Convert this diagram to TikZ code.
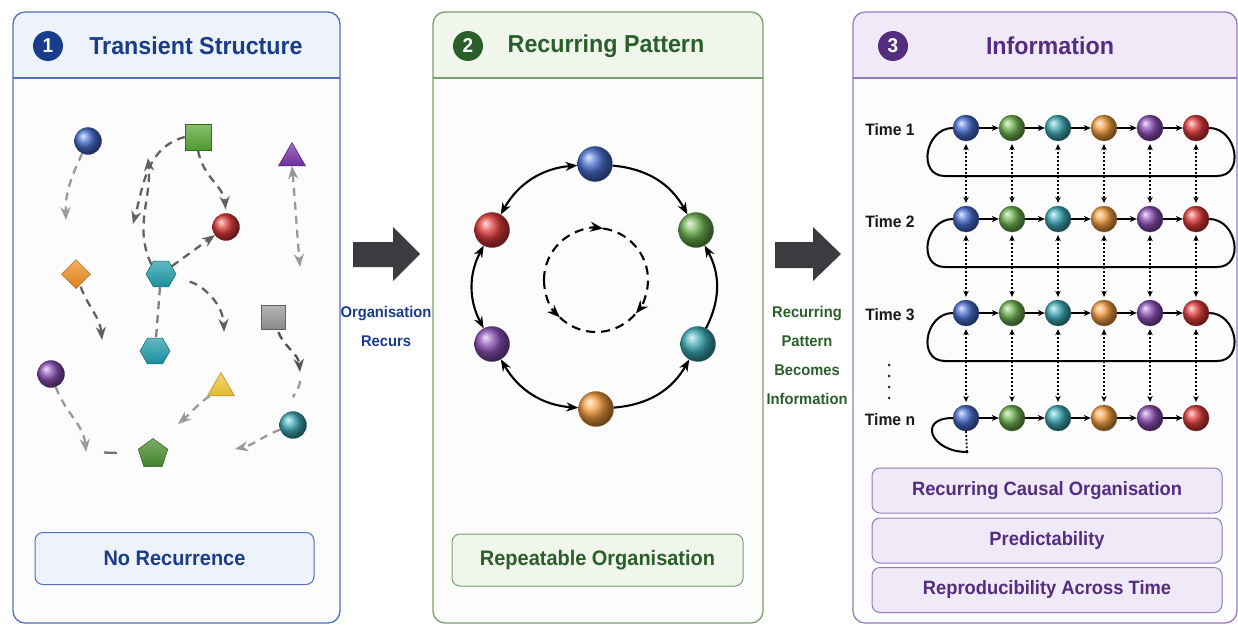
\documentclass[tikz,border=0pt]{standalone}
\usepackage{fontspec}
\setmainfont{Liberation Sans}[FakeStretch=0.95]
\usetikzlibrary{arrows.meta,shapes.geometric,calc}
\definecolor{cone}{RGB}{25,60,140}
\definecolor{conel}{RGB}{78,112,190}
\definecolor{conef}{RGB}{238,243,251}
\definecolor{ctwo}{RGB}{42,95,42}
\definecolor{ctwol}{RGB}{120,160,110}
\definecolor{ctwof}{RGB}{240,246,236}
\definecolor{cthree}{RGB}{84,44,128}
\definecolor{cthreel}{RGB}{150,122,192}
\definecolor{cthreef}{RGB}{240,234,248}
\definecolor{sblue}{RGB}{40,85,200}
\definecolor{sgreen}{RGB}{85,165,50}
\definecolor{steal}{RGB}{30,155,170}
\definecolor{sorange}{RGB}{240,140,30}
\definecolor{spurple}{RGB}{120,50,170}
\definecolor{sred}{RGB}{220,25,25}
\definecolor{sgray}{RGB}{150,150,150}
\definecolor{syellow}{RGB}{245,200,50}
\definecolor{bigarrow}{RGB}{58,60,63}
\begin{document}
\begin{tikzpicture}[x=1pt,y=1pt,
  ttl/.style={font=\fontsize{24.5}{28}\selectfont\bfseries, inner sep=0pt},
  num/.style={circle, inner sep=0pt, minimum size=30pt, fill=#1, text=white, font=\fontsize{20}{22}\selectfont\bfseries},
  ball/.style={circle, inner sep=0pt, ball color=#1!85!white, draw=#1!60!black, line width=0.3pt},
  flat/.style={inner sep=0pt, draw=#1!65!black, line width=0.5pt, top color=#1!70!white, bottom color=#1!92!black},
  lbox/.style={rounded corners=8pt, line width=1pt, minimum height=#1, inner sep=0pt},
  darr/.style={dashed, dash pattern=on 8pt off 6pt, line width=2.3pt, draw=#1, -{Stealth[length=13pt,width=10pt]}},
  dplain/.style={dashed, dash pattern=on 8pt off 6pt, line width=2.3pt, draw=#1},
  ring/.style={line width=2.1pt, black},
  rtip/.style={{Stealth[length=12pt,width=9pt]}},
  harr/.style={line width=1.8pt, -{Stealth[length=7pt,width=6pt]}},
  vdot/.style={dotted, line width=2pt, {Stealth[length=6pt,width=5.5pt]}-{Stealth[length=6pt,width=5.5pt]}, shorten <=3pt, shorten >=3pt},
  loopline/.style={line width=2pt, black},
  tl/.style={font=\fontsize{16.5}{18}\selectfont\bfseries, text=black!90},
  side/.style={align=center, font=\fontsize{15.5}{29}\selectfont\bfseries}
]
\useasboundingbox (0,0) rectangle (1238,-626);
\fill[white] (0,0) rectangle (1238,-626);

% ---------------- Panel 1 ----------------
\fill[black!1, rounded corners=12pt] (13,-12) rectangle (340,-623);
\fill[conef, rounded corners=12pt] (13,-78) -- (13,-12) -- (340,-12) -- (340,-78);
\draw[conel, line width=1.2pt] (13,-78) -- (340,-78);
\draw[conel, line width=1.3pt, rounded corners=12pt] (13,-12) rectangle (340,-623);
\node[num=cone] (n1) at (48,-46) {1};
\node[ttl, text=cone] (t1) at (196,-46) {Transient Structure};

\node[ball=sblue, minimum size=27pt] (b1) at (88,-141) {};
\node[flat=sgreen, minimum size=26pt] (gs) at (198,-137) {};
\node[regular polygon, regular polygon sides=3, minimum size=31pt, flat=spurple] (pt) at (292,-158) {};
\node[ball=sred, minimum size=27pt] (rs) at (226,-227) {};
\node[diamond, minimum size=29pt, flat=sorange] (od) at (76,-274) {};
\node[regular polygon, regular polygon sides=6, minimum size=30pt, flat=steal] (h1) at (161,-274) {};
\node[flat=sgray, minimum size=24pt] (gys) at (273,-317) {};
\node[regular polygon, regular polygon sides=6, minimum size=30pt, flat=steal] (h2) at (155,-351) {};
\node[ball=spurple, minimum size=27pt] (ps) at (51,-374) {};
\node[regular polygon, regular polygon sides=3, minimum size=31pt, flat=syellow] (yt) at (221,-388) {};
\node[ball=steal, minimum size=27pt] (ts) at (293,-425) {};
\node[regular polygon, regular polygon sides=5, minimum size=31pt, flat=sgreen!85!black] (pg) at (153,-454) {};

\coordinate (a1) at (66,-220);
\coordinate (a2) at (148,-158);
\coordinate (a3) at (133,-224);
\coordinate (a4) at (300,-267);
\coordinate (a5) at (102,-340);
\coordinate (a6) at (224,-332);
\coordinate (a7) at (300,-372);
\coordinate (a8) at (86,-452);
\coordinate (a9) at (178,-424);
\coordinate (a10) at (235,-449);

\draw[darr=black!40] (b1) to[out=245,in=92] (a1);
\draw[darr=black!62] (gs.west) to[out=195,in=75] (a3);
\draw[darr=black!62] (h1.north west) to[out=115,in=-85] (a2);
\draw[darr=black!62, shorten >=4pt] (gs.south) to[out=-80,in=95] (rs.north);
\draw[darr=black!62] (h1) -- (rs);
\draw[darr=black!40, {Stealth[length=13pt,width=10pt]}-{Stealth[length=13pt,width=10pt]}] (pt.south) to[out=-85,in=95] (a4);
\draw[darr=black!62, shorten <=2pt] (od) to[out=-70,in=95] (a5);
\draw[dplain=black!50] (h1) -- (h2);
\draw[darr=black!62, shorten <=16pt] (h1) to[out=-15,in=92] (a6);
\draw[darr=black!68, shorten <=3pt] (gys) to[out=-70,in=95] (a7);
\draw[dplain=black!40, shorten <=9pt, shorten >=14pt] (a7) to[out=-90,in=90] (ts);
\draw[darr=black!40] (ps) to[out=-70,in=95] (a8);
\draw[dplain=black!55, dash pattern=on 13pt off 20pt, shorten <=18pt, shorten >=18pt] (a8) -- (pg);
\draw[darr=black!40] (yt) to[out=215,in=40] (a9);
\draw[darr=black!40] (ts) to[out=200,in=12] (a10);

\node[lbox=52pt, minimum width=279pt, fill=conef, draw=conel, text=cone, font=\fontsize{21}{24}\selectfont\bfseries] (nr) at (174.5,-558.5) {No Recurrence};

% ---------------- Arrow 1 ----------------
\fill[bigarrow] (353,-242) -- (393,-242) -- (393,-227) -- (420,-254) -- (393,-281) -- (393,-267) -- (353,-267) -- cycle;
\node[side, text=cone] (s1) at (386,-326) {Organisation\\Recurs};

% ---------------- Panel 2 ----------------
\fill[black!1, rounded corners=12pt] (433,-12) rectangle (763,-623);
\fill[ctwof, rounded corners=12pt] (433,-78) -- (433,-12) -- (763,-12) -- (763,-78);
\draw[ctwol, line width=1.2pt] (433,-78) -- (763,-78);
\draw[ctwol, line width=1.3pt, rounded corners=12pt] (433,-12) rectangle (763,-623);
\node[num=ctwo] (n2) at (468,-46) {2};
\node[ttl, text=ctwo] (t2) at (606,-46) {Recurring Pattern};

\node[ball=sblue, minimum size=35pt] (qb) at (595,-164) {};
\node[ball=sgreen, minimum size=35pt] (qg) at (696,-230) {};
\node[ball=steal, minimum size=35pt] (qt) at (698,-344) {};
\node[ball=sorange, minimum size=35pt] (qo) at (596,-409) {};
\node[ball=spurple, minimum size=35pt] (qp) at (492,-344) {};
\node[ball=sred, minimum size=35pt] (qr) at (492,-230) {};

\draw[ring, -{Stealth[length=12pt,width=9pt]}] (qb) to[bend left=28] (qg);
\draw[ring, {Stealth[length=12pt,width=9pt]}-{Stealth[length=12pt,width=9pt]}] (qr) to[bend left=28] (qb);
\draw[ring, {Stealth[length=12pt,width=9pt]}-{Stealth[length=12pt,width=9pt]}] (qr) to[bend right=28] (qp);
\draw[ring, {Stealth[length=12pt,width=9pt]}-{Stealth[length=12pt,width=9pt]}] (qp) to[bend right=28] (qo);
\draw[ring, -{Stealth[length=12pt,width=9pt]}] (qo) to[bend right=28] (qt);
\draw[ring, -{Stealth[length=12pt,width=9pt]}] (qt) to[bend right=28] (qg);

\coordinate (ic) at (596,-280);
\draw[ring, dashed, dash pattern=on 9pt off 6pt, -{Stealth[length=13pt,width=10pt]}] ($(ic)+(180:52)$) arc[start angle=180, end angle=82, radius=52];
\draw[ring, dashed, dash pattern=on 9pt off 6pt, -{Stealth[length=13pt,width=10pt]}] ($(ic)+(82:52)$) arc[start angle=82, end angle=-40, radius=52];
\draw[ring, dashed, dash pattern=on 9pt off 6pt, -{Stealth[length=13pt,width=10pt]}] ($(ic)+(180:52)$) arc[start angle=180, end angle=226, radius=52];
\draw[ring, dashed, dash pattern=on 9pt off 6pt] ($(ic)+(226:52)$) arc[start angle=226, end angle=320, radius=52];

\node[lbox=52pt, minimum width=291pt, fill=ctwof, draw=ctwol, text=ctwo, font=\fontsize{21}{24}\selectfont\bfseries] (ro) at (597.5,-560) {Repeatable Organisation};

% ---------------- Arrow 2 ----------------
\fill[bigarrow] (775,-242) -- (813,-242) -- (813,-227) -- (841,-254) -- (813,-281) -- (813,-268) -- (775,-268) -- cycle;
\node[side, text=ctwo] (s2) at (807,-355) {Recurring\\Pattern\\Becomes\\Information};

% ---------------- Panel 3 ----------------
\fill[black!1, rounded corners=12pt] (853,-12) rectangle (1237,-623);
\fill[cthreef, rounded corners=12pt] (853,-78) -- (853,-12) -- (1237,-12) -- (1237,-78);
\draw[cthreel, line width=1.2pt] (853,-78) -- (1237,-78);
\draw[cthreel, line width=1.3pt, rounded corners=12pt] (853,-12) rectangle (1237,-623);
\node[num=cthree] (n3) at (893,-46) {3};
\node[ttl, text=cthree] (t3) at (1050,-46) {Information};

\foreach \r/\y in {1/128,2/219,3/313,4/418} {
  \foreach \c/\col in {1/sblue,2/sgreen,3/steal,4/sorange,5/spurple,6/sred} {
    \node[ball=\col, minimum size=26pt] (r\r-\c) at ({966+46*(\c-1)},-\y) {};
  }
}
\node[tl] (l1) at (890,-130) {Time 1};
\node[tl] (l2) at (890,-222) {Time 2};
\node[tl] (l3) at (890,-315) {Time 3};
\node[tl] (l4) at (890,-420) {Time n};
\foreach \yy in {365,376,387,398} \fill[black!85] (889,-\yy) circle (1.5pt);

\foreach \r in {1,2,3,4} {
  \foreach \c [evaluate=\c as \n using int(\c+1)] in {1,...,5} {
    \draw[harr] (r\r-\c) -- (r\r-\n);
  }
}
\foreach \r in {1,2,3} {
  \draw[loopline] (r\r-6.east) .. controls +(28,0) and +(28,0) .. ($(r\r-6.east)+(8,-48)$) -- ($(r\r-1.west)+(-8,-48)$) .. controls +(-28,0) and +(-28,0) .. (r\r-1.west);
}
\foreach \r [evaluate=\r as \n using int(\r+1)] in {1,2,3} {
  \foreach \c in {1,...,6} {
    \draw[vdot] (r\r-\c.south) -- (r\n-\c.north);
  }
}
\coordinate (tn) at (967,-452);
\draw[loopline] (r4-1.west) .. controls +(-36,0) and +(-36,0) .. (tn);
\draw[dotted, line width=1.8pt] (tn) -- (r4-1.south);
\fill (tn) circle (1.6pt);

\node[lbox=45pt, minimum width=350pt, fill=cthreef, draw=cthreel, text=cthree, font=\fontsize{19.3}{22}\selectfont\bfseries] (k1) at (1047,-490.5) {Recurring Causal Organisation};
\node[lbox=45pt, minimum width=350pt, fill=cthreef, draw=cthreel, text=cthree, font=\fontsize{19.3}{22}\selectfont\bfseries] (k2) at (1047,-540.5) {Predictability};
\node[lbox=45pt, minimum width=350pt, fill=cthreef, draw=cthreel, text=cthree, font=\fontsize{19.3}{22}\selectfont\bfseries] (k3) at (1047,-590) {Reproducibility Across Time};
\end{tikzpicture}
\end{document}
